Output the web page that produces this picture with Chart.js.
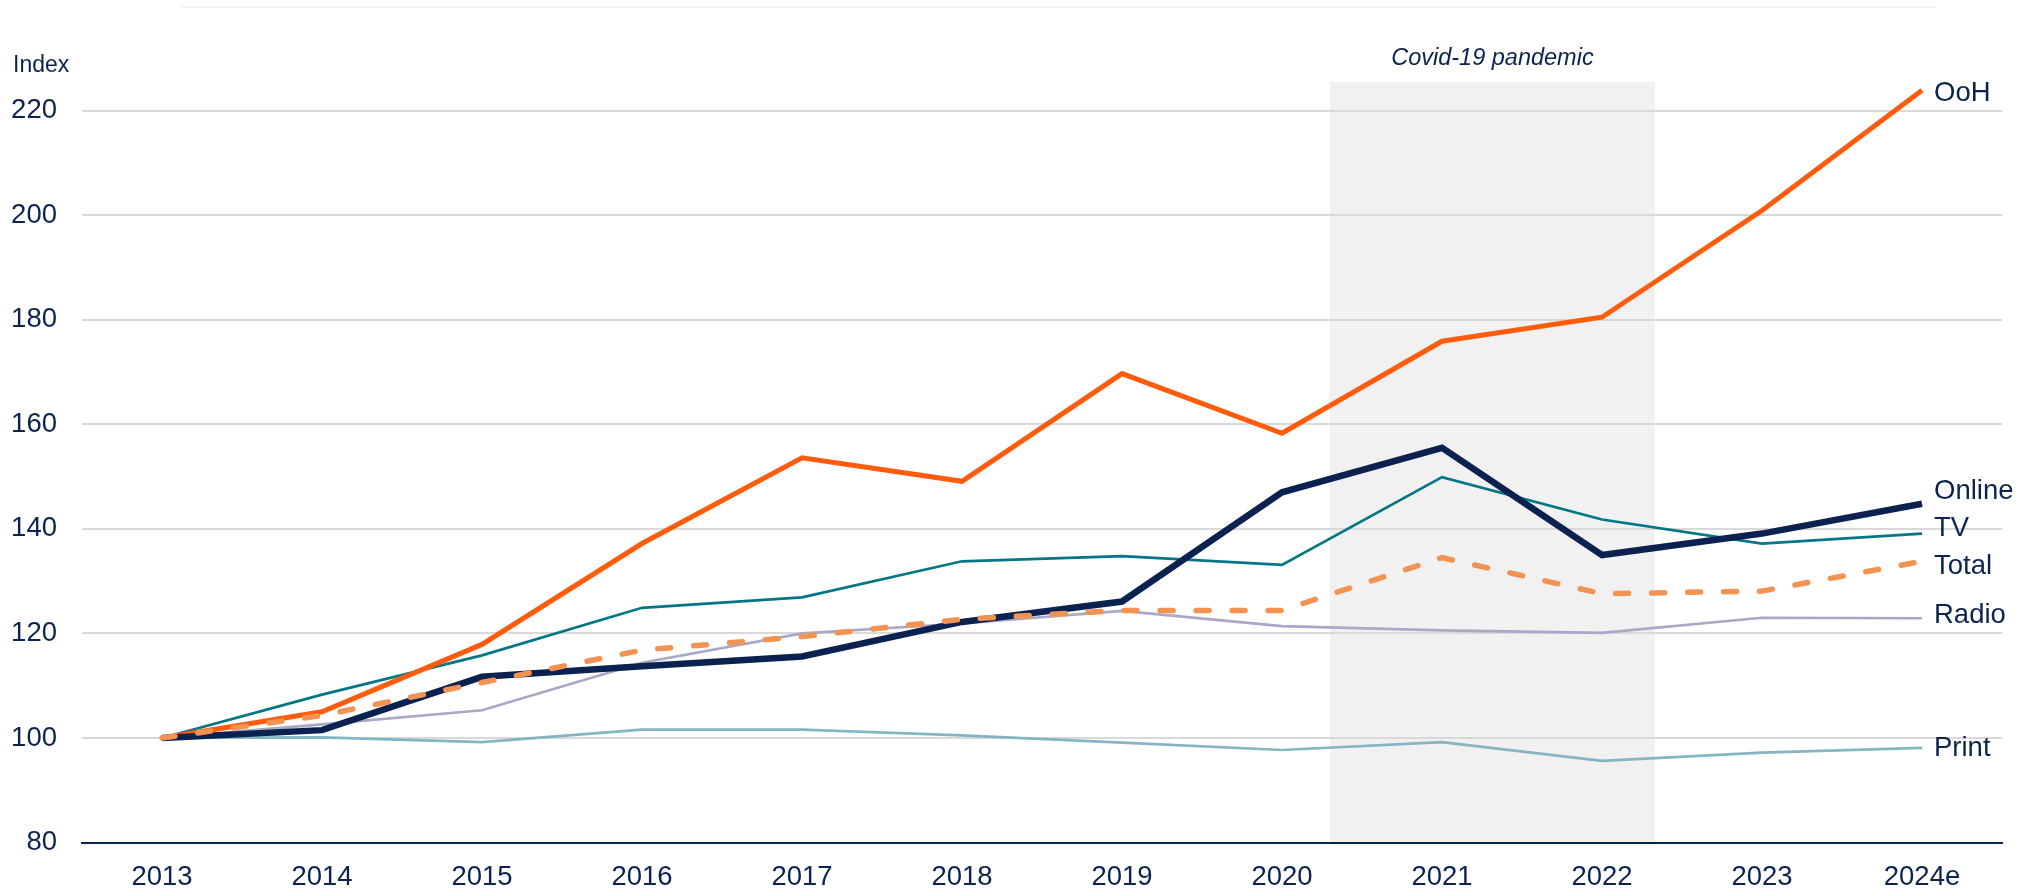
<!DOCTYPE html>
<html><head><meta charset="utf-8">
<script src="https://cdn.jsdelivr.net/npm/chart.js@4.4.1/dist/chart.umd.min.js"></script>
<style>html,body{margin:0;padding:0;background:#fff;overflow:hidden}</style>
</head><body>
<canvas id="c" width="2037" height="888"></canvas>
<script>
// ---- data ----
const years = ['2013','2014','2015','2016','2017','2018','2019','2020','2021','2022','2023','2024e'];
const ooh    = [100,105.0,117.9,137.2,153.6,149.1,169.7,158.3,175.9,180.5,200.9,223.9];
const online = [100,101.5,111.7,113.7,115.6,122.2,126.1,147.0,155.5,135.0,139.1,144.8];
const tv     = [100,108.3,115.8,124.9,126.9,133.8,134.8,133.1,149.9,141.8,137.2,139.1];
const total  = [100,104.3,110.6,116.8,119.4,122.7,124.4,124.4,134.5,127.6,128.1,133.8];
const radio  = [100,102.6,105.3,114.4,120.0,121.9,124.3,121.4,120.6,120.1,123.0,122.9];
const print  = [100,100.1, 99.2,101.6,101.6,100.5, 99.1, 97.7, 99.2, 95.6, 97.2, 98.1];
const yTicks = [80,100,120,140,160,180,200,220];
const seriesNames = ['Total','Online','OoH','TV','Radio','Print'];
const covidLabel = 'Covid-19 pandemic';
const covidSpan = [7.3, 9.33]; // in category index units (2020.3 .. 2022.33)

// ---- style ----
const NAVY = '#0c2350';
const FONT = "'Liberation Sans', Arial, sans-serif";
const labelDy = {Total:5, Online:-12, OoH:3, TV:-5, Radio:-3, Print:1};

const bandPlugin = {
  id:'band',
  beforeDraw(chart){
    const {ctx, chartArea, scales:{x}} = chart;
    ctx.save();
    // faint top rule
    ctx.strokeStyle = '#f2f2f2'; ctx.lineWidth = 2;
    ctx.beginPath(); ctx.moveTo(182, 7); ctx.lineTo(1935, 7); ctx.stroke();
    const x0 = x.getPixelForValue(covidSpan[0]);
    const x1 = x.getPixelForValue(covidSpan[1]);
    ctx.fillStyle = '#f1f1f1';
    ctx.fillRect(x0, chartArea.top, x1 - x0, chartArea.bottom - chartArea.top);
    ctx.fillStyle = NAVY;
    ctx.font = "italic 23.5px " + FONT;
    ctx.textAlign = 'center'; ctx.textBaseline = 'middle';
    ctx.fillText(covidLabel, (x0 + x1) / 2, 58);
    ctx.font = "23px " + FONT;
    ctx.textAlign = 'left';
    ctx.fillText('Index', 13, 66);
    ctx.restore();
  }
};
const labelPlugin = {
  id:'endLabels',
  afterDatasetsDraw(chart){
    const {ctx} = chart;
    ctx.save();
    ctx.font = "27.5px " + FONT;
    ctx.fillStyle = NAVY; ctx.textAlign = 'left'; ctx.textBaseline = 'middle';
    chart.data.datasets.forEach((ds, i) => {
      const meta = chart.getDatasetMeta(i);
      const pt = meta.data[meta.data.length - 1];
      ctx.fillText(ds.label, pt.x + 12, pt.y + (labelDy[ds.label] || 0));
    });
    ctx.restore();
  }
};

const dataMap = {Total: total, Online: online, OoH: ooh, TV: tv, Radio: radio, Print: print};
const styles = {
  Total:  {borderColor:'#f39352', borderWidth:5.5, borderDash:[13,23], borderCapStyle:'round'},
  Online: {borderColor:'#0b2150', borderWidth:6.5},
  OoH:    {borderColor:'#ff5c0e', borderWidth:5},
  TV:     {borderColor:'#047686', borderWidth:2.7},
  Radio:  {borderColor:'#a9a8c6', borderWidth:2.7},
  Print:  {borderColor:'#84b5c1', borderWidth:2.7}
};

new Chart(document.getElementById('c'), {
  type:'line',
  data:{
    labels: years,
    datasets: seriesNames.map(n => Object.assign({label:n, data:dataMap[n], fill:false, pointRadius:0, tension:0, borderJoinStyle:'miter'}, styles[n]))
  },
  options:{
    responsive:false, animation:false, devicePixelRatio:1,
    layout:{padding:{top:82, right:35, left:0, bottom:0}},
    plugins:{legend:{display:false}, tooltip:{enabled:false}},
    scales:{
      x:{
        offset:true,
        afterFit: s => { s.height = 45.5; },
        grid:{display:false, drawTicks:false},
        border:{display:true, color:NAVY, width:2},
        ticks:{color:NAVY, font:{family:FONT, size:27.5, lineHeight:1}, padding:21, maxRotation:0, autoSkip:false}
      },
      y:{
        min:80, max:225.5,
        afterBuildTicks: s => { s.ticks = yTicks.map(v => ({value:v})); },
        afterFit: s => { s.width = 82; },
        grid:{color: c => (c.tick && c.tick.value === 80) ? 'rgba(0,0,0,0)' : '#d9d9d9', lineWidth:2, drawTicks:false},
        border:{display:false},
        ticks:{color:NAVY, font:{family:FONT, size:27.5, lineHeight:1}, padding:25}
      }
    }
  },
  plugins:[bandPlugin, labelPlugin]
});
</script>
</body></html>
